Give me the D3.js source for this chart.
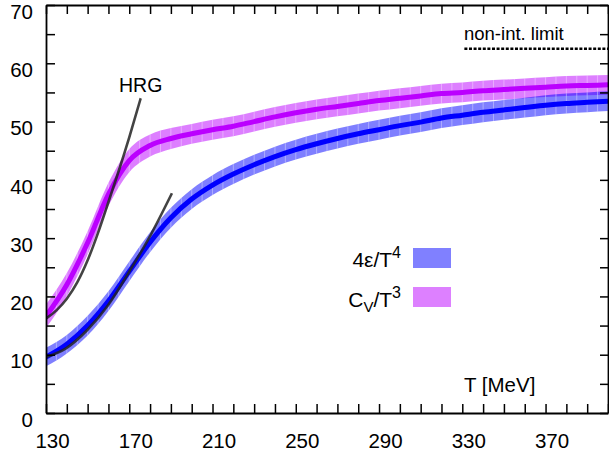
<!DOCTYPE html>
<html><head><meta charset="utf-8">
<script src="https://cdn.jsdelivr.net/npm/d3@7"></script>
<style>
html,body{margin:0;padding:0;background:#fff;}
text{font-family:"Liberation Sans",Arial,sans-serif;fill:#000;}
</style></head>
<body>
<svg id="chart" width="609" height="457"></svg>
<script>
// ---- data ----
const temps = [130,140,150,160,170,180,190,200,210,220,230,240,250,260,270,280,290,300,310,320,330,340,350,360,370,380,390,400];
const cvT3   = [16.6,22.0,29.2,37.5,43.3,45.9,47.1,47.9,48.6,49.2,50.0,50.8,51.5,52.1,52.6,53.1,53.6,54.0,54.4,54.8,55.0,55.3,55.5,55.7,55.9,56.1,56.2,56.3];
const cvErr  = [2.0,2.0,2.0,2.0,2.0,1.9,1.8,1.7,1.7,1.7,1.7,1.7,1.7,1.7,1.7,1.7,1.7,1.7,1.7,1.7,1.7,1.7,1.7,1.7,1.7,1.7,1.7,1.7];
const e4T4   = [9.6,11.8,15.0,19.2,24.3,29.3,33.5,36.7,39.1,41.0,42.6,44.0,45.2,46.2,47.1,47.9,48.6,49.3,49.9,50.6,51.1,51.6,52.0,52.4,52.8,53.1,53.3,53.5];
const e4Err  = [1.6,1.6,1.7,1.7,1.7,1.7,1.7,1.7,1.7,1.7,1.7,1.7,1.7,1.7,1.7,1.7,1.7,1.7,1.7,1.7,1.7,1.7,1.7,1.7,1.7,1.7,1.7,1.7];
const hrgCvT = [130,135,140,145,150,155,160,165,170,175.5];
const hrgCv  = [16.2,17.6,19.6,22.4,26.2,30.9,36.2,41.6,47.3,54.0];
const hrgET  = [130,139.6,149.7,159.8,169.9,179,190.5];
const hrgE   = [9.6,11.1,14.2,18.5,24.2,29.7,37.7];
const limitT = [331,400];
const limitV = 62.5;
const xTicks = [130,140,150,160,170,180,190,200,210,220,230,240,250,260,270,280,290,300,310,320,330,340,350,360,370,380,390,400];
const xLabels = [130,170,210,250,290,330,370];
const yTicks = [0,5,10,15,20,25,30,35,40,45,50,55,60,65,70];
const yLabels = [0,10,20,30,40,50,60,70];
const legendLabels = ["4ε/T", "C"];

// ---- scales ----
const svg = d3.select("#chart");
const x = d3.scaleLinear().domain([130,400]).range([46,608]);
const y = d3.scaleLinear().domain([0,70]).range([413,5]);

const defs = svg.append("defs");
const cpPlot = defs.append("clipPath").attr("id","plotclip");
cpPlot.append("rect").attr("x",46).attr("y",5).attr("width",562).attr("height",408);

const plot = svg.append("g").attr("clip-path","url(#plotclip)");

function band(vals, errs, color, id){
  const data = temps.map((t,i)=>({t, v:vals[i], e:errs[i]}));
  const area = d3.area().curve(d3.curveMonotoneX)
    .x(d=>x(d.t)).y0(d=>y(d.v-d.e)).y1(d=>y(d.v+d.e));
  defs.append("clipPath").attr("id",id).append("path").attr("d",area(data));
  plot.append("path").attr("d",area(data)).attr("fill",color).attr("fill-opacity",0.5);
  const seams = plot.append("g").attr("clip-path",`url(#${id})`);
  seams.selectAll("line").data(d3.range(130,401,5)).join("line")
    .attr("x1",d=>x(d)).attr("x2",d=>x(d)).attr("y1",5).attr("y2",413)
    .attr("stroke","#fff").attr("stroke-opacity",0.35).attr("stroke-width",1);
  return data;
}
const cvData = band(cvT3, cvErr, "#bb00ff", "cvclip");
const eData = band(e4T4, e4Err, "#0000ff", "eclip");

const lineGen = d3.line().curve(d3.curveMonotoneX).x(d=>x(d.t)).y(d=>y(d.v));
plot.append("path").attr("d",lineGen(cvData)).attr("fill","none").attr("stroke","#bb00ff").attr("stroke-width",5);
plot.append("path").attr("d",lineGen(eData)).attr("fill","none").attr("stroke","#0000ff").attr("stroke-width",5);

// HRG curves
const hrgLine = d3.line().curve(d3.curveMonotoneX).x(d=>x(d[0])).y(d=>y(d[1]));
plot.append("path").attr("d",hrgLine(hrgCvT.map((t,i)=>[t,hrgCv[i]])))
  .attr("fill","none").attr("stroke","#222").attr("stroke-opacity",0.85).attr("stroke-width",2.6);
plot.append("path").attr("d",hrgLine(hrgET.map((t,i)=>[t,hrgE[i]])))
  .attr("fill","none").attr("stroke","#222").attr("stroke-opacity",0.85).attr("stroke-width",2.6);

// non-interacting limit
plot.append("line").attr("x1",x(limitT[0])).attr("x2",x(limitT[1])).attr("y1",y(limitV)).attr("y2",y(limitV))
  .attr("stroke","#000").attr("stroke-width",2.5).attr("stroke-dasharray","3,1.6");

// ---- axes ----
const axW = 1.8;
function styleAxis(g){
  g.select(".domain").attr("stroke","#000").attr("stroke-width",axW);
  g.selectAll(".tick line").attr("stroke","#000").attr("stroke-width",1.5);
}
const gB = svg.append("g").attr("transform",`translate(0,${y(0)})`)
  .call(d3.axisBottom(x).tickValues(xTicks).tickSizeInner(-9).tickSizeOuter(0)
    .tickFormat(d=>xLabels.includes(d)?d:""));
styleAxis(gB);
gB.selectAll(".tick text").attr("font-size",20.5).attr("dy",null).attr("y",35).attr("dx",6)
  .style("font-family","Liberation Sans, Arial, sans-serif").attr("fill","#000");

const gT = svg.append("g").attr("transform",`translate(0,${y(70)})`)
  .call(d3.axisTop(x).tickValues(xTicks).tickSizeInner(-9).tickSizeOuter(0).tickFormat(""));
styleAxis(gT);

const gL = svg.append("g").attr("transform",`translate(${x(130)},0)`)
  .call(d3.axisLeft(y).tickValues(yTicks).tickSizeInner(-9).tickSizeOuter(0)
    .tickFormat(d=>yLabels.includes(d)?d:""));
styleAxis(gL);
gL.selectAll(".tick text").attr("font-size",20.5).attr("x",-13).attr("dy","0.35em").attr("transform","translate(0,6)")
  .style("font-family","Liberation Sans, Arial, sans-serif").attr("fill","#000");

const gR = svg.append("g").attr("transform",`translate(${x(400)},0)`)
  .call(d3.axisRight(y).tickValues(yTicks).tickSizeInner(-8).tickSizeOuter(0).tickFormat(""));
styleAxis(gR);

// ---- text ----
svg.append("text").attr("x",119).attr("y",92).attr("font-size",19.5).text("HRG");
svg.append("text").attr("x",464).attr("y",40).attr("font-size",18.5).text("non-int. limit");
svg.append("text").attr("x",464).attr("y",392).attr("font-size",20.5).text("T [MeV]");

// legend
const l1 = svg.append("text").attr("x",401).attr("y",267).attr("font-size",21).attr("text-anchor","end");
l1.append("tspan").text(legendLabels[0]);
l1.append("tspan").attr("dy",-9).attr("font-size",16).text("4");
svg.append("rect").attr("x",413).attr("y",248).attr("width",38).attr("height",20).attr("fill","#8080ff");

const l2 = svg.append("text").attr("x",401).attr("y",307).attr("font-size",21).attr("text-anchor","end");
l2.append("tspan").text(legendLabels[1]);
l2.append("tspan").attr("dy",5).attr("font-size",15).text("V");
l2.append("tspan").attr("dy",-5).text("/T");
l2.append("tspan").attr("dy",-9).attr("font-size",16).text("3");
svg.append("rect").attr("x",413).attr("y",287).attr("width",38).attr("height",20).attr("fill","#dd80ff");
</script>
</body></html>
